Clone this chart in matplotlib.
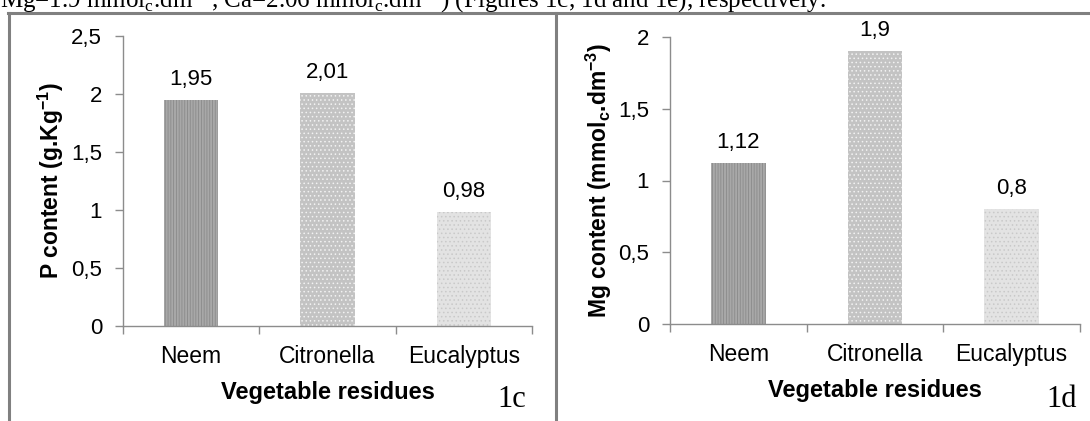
import matplotlib.pyplot as plt
from matplotlib.lines import Line2D
from matplotlib.ticker import FuncFormatter, FixedLocator

residues = ["Neem", "Citronella", "Eucalyptus"]
p_content = [1.95, 2.01, 0.98]
mg_content = [1.12, 1.9, 0.8]

p_ticks = [0, 0.5, 1, 1.5, 2, 2.5]
mg_ticks = [0, 0.5, 1, 1.5, 2]

bar_colors = ["#a8a8a8", "#c3c3c3", "#e3e3e3"]
bar_hatch = ["||||||", "....", "...."]
hatch_colors = ["#8a8a8a", "#f2f2f2", "#c9c9c9"]

plt.rcParams['font.family'] = ['Liberation Sans', 'DejaVu Sans']
plt.rcParams['mathtext.fontset'] = 'custom'
plt.rcParams['mathtext.rm'] = 'Liberation Serif'
plt.rcParams['mathtext.bf'] = 'Liberation Sans:bold'
plt.rcParams['hatch.linewidth'] = 0.6

GRAY = "#8c8c8c"


def comma(v, pos):
    return ("%g" % v).replace(".", ",")


def draw_panel(ax, values, ticks, ylabel, ylabelpad):
    x = range(len(residues))
    bars = ax.bar(x, values, width=0.4, color=bar_colors, linewidth=0)
    for b, h, hc in zip(bars, bar_hatch, hatch_colors):
        b.set_hatch(h)
        b.set_edgecolor(hc)
    for xi, v in zip(x, values):
        ax.annotate(comma(v, None), (xi, v), xytext=(0, 11), textcoords="offset points",
                    ha="center", va="baseline", fontsize=16)
    ax.set_xlim(-0.5, 2.5)
    ax.set_ylim(0, ticks[-1])
    ax.set_yticks(ticks)
    ax.yaxis.set_major_formatter(FuncFormatter(comma))
    ax.set_xticks(list(x))
    ax.set_xticklabels(residues, fontsize=16.5)
    ax.xaxis.set_minor_locator(FixedLocator([-0.5, 0.5, 1.5, 2.5]))
    ax.tick_params(axis="x", which="major", length=0, pad=14)
    ax.tick_params(axis="x", which="minor", length=6, color=GRAY, width=1)
    ax.tick_params(axis="y", length=6, color=GRAY, width=1, labelsize=16, pad=9)
    for s in ["top", "right"]:
        ax.spines[s].set_visible(False)
    for s in ["left", "bottom"]:
        ax.spines[s].set_color(GRAY)
        ax.spines[s].set_linewidth(1)
    ax.set_xlabel("Vegetable residues", fontsize=17, fontweight="bold", labelpad=9)
    ax.set_ylabel(ylabel, fontsize=16.5, fontweight="bold", labelpad=ylabelpad)


fig = plt.figure(figsize=(10.9, 4.21), dpi=100)
ax1 = fig.add_axes([123 / 1090, 1 - 325.7 / 421, 409 / 1090, 289.2 / 421])
ax2 = fig.add_axes([670 / 1090, 1 - 324 / 421, 410 / 1090, 287 / 421])

draw_panel(ax1, p_content, p_ticks, "P content (g.Kg$^{\\mathbf{-1}}$)", 4)
draw_panel(ax2, mg_content, mg_ticks, "Mg content (mmol$_{\\mathbf{c}}$.dm$^{\\mathbf{-3}}$)", 3)

# figure tags
fig.text(526 / 1090, 1 - 407 / 421, "1c", ha="right", va="baseline",
         fontsize=22, family="Liberation Serif")
fig.text(1077 / 1090, 1 - 407 / 421, "1d", ha="right", va="baseline",
         fontsize=22, family="Liberation Serif")

# document frame around the two figures
fc = "#808080"
fig.add_artist(Line2D([8 / 1090, 1], [1 - 13 / 421, 1 - 13 / 421], color=fc, lw=2.2))
fig.add_artist(Line2D([9 / 1090, 9 / 1090], [0, 1 - 13 / 421], color=fc, lw=2.2))
fig.add_artist(Line2D([556 / 1090, 556 / 1090], [0, 1 - 13 / 421], color=fc, lw=2.2))

# cut-off line of running text above the figure
fig.text(0.0, 1 - 8 / 421,
         "Mg=1.9 mmol$_{\\mathrm{c}}$.dm$^{-3}$, Ca=2.06 mmol$_{\\mathrm{c}}$.dm$^{-3}$) "
         "(Figures 1c, 1d and 1e), respectively.",
         fontsize=18, family="Liberation Serif", va="baseline", ha="left")

fig.savefig("out.png", dpi=100)
